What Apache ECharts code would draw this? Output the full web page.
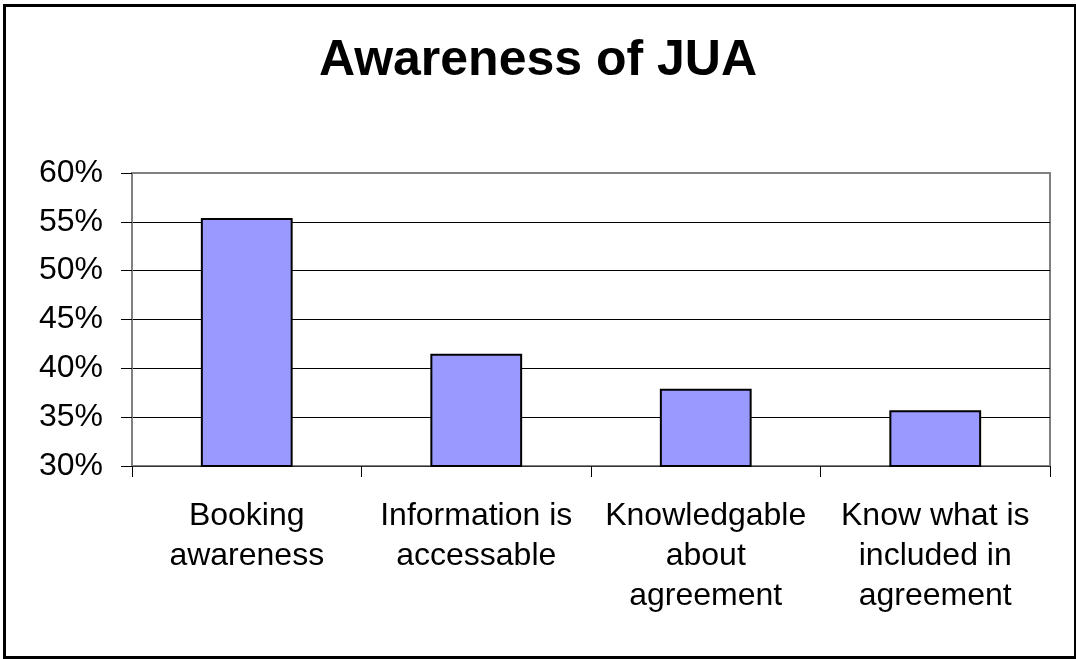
<!DOCTYPE html>
<html>
<head>
<meta charset="utf-8">
<script src="https://cdn.jsdelivr.net/npm/echarts@6/dist/echarts.min.js"></script>
<style>
    body { margin: 0; background: #fff; }
    #chart { width: 1076px; height: 659px; }
</style>
</head>
<body>
<div id="chart"></div>
<script>
    // 数据
    const categories = ['Booking\nawareness', 'Information is\naccessable', 'Knowledgable\nabout\nagreement', 'Know what is\nincluded in\nagreement']
    const values = [55.4, 41.5, 37.9, 35.7]
    const yTicks = { min: 30, max: 60, step: 5 }

    let myChart = echarts.init(document.getElementById('chart'))
    myChart.setOption({
        animation: false,
        backgroundColor: '#fff',
        title: {
            text: 'Awareness of JUA',
            left: 'center',
            top: 31,
            textStyle: {
                fontFamily: 'Liberation Sans, Arial, sans-serif',
                fontSize: 50,
                fontWeight: 'bold',
                color: '#000'
            }
        },
        // 外边框
        graphic: [{
            type: 'rect',
            left: 2,
            top: 3,
            shape: { width: 1071, height: 652 },
            style: { fill: 'none', stroke: '#000', lineWidth: 3 }
        }],
        grid: {
            left: 132,
            right: 26,
            top: 173,
            bottom: 193,
            show: true,
            borderColor: '#808080',
            borderWidth: 2
        },
        xAxis: {
            type: 'category',
            data: categories,
            axisLine: { lineStyle: { color: '#333', width: 1 } },
            axisTick: { show: true, interval: 0, length: 11, lineStyle: { color: '#000' } },
            axisLabel: {
                interval: 0,
                margin: 30,
                fontFamily: 'Liberation Sans, Arial, sans-serif',
                fontSize: 32,
                lineHeight: 40,
                color: '#000'
            }
        },
        yAxis: {
            type: 'value',
            min: yTicks.min,
            max: yTicks.max,
            interval: yTicks.step,
            axisLine: { show: true, lineStyle: { color: '#808080', width: 2 } },
            axisTick: { show: true, length: 11, lineStyle: { color: '#000' } },
            axisLabel: {
                margin: 29,
                formatter: '{value}%',
                fontFamily: 'Liberation Sans, Arial, sans-serif',
                fontSize: 32,
                color: '#000'
            },
            splitLine: {
                lineStyle: {
                    color: ['#000', '#000', '#000', '#000', '#000', '#000', '#808080'],
                    width: 1
                }
            }
        },
        series: [{
            type: 'bar',
            data: values,
            barWidth: '40%',
            itemStyle: {
                color: '#9999ff',
                borderColor: '#000',
                borderWidth: 2
            }
        }]
    })
</script>
</body>
</html>
